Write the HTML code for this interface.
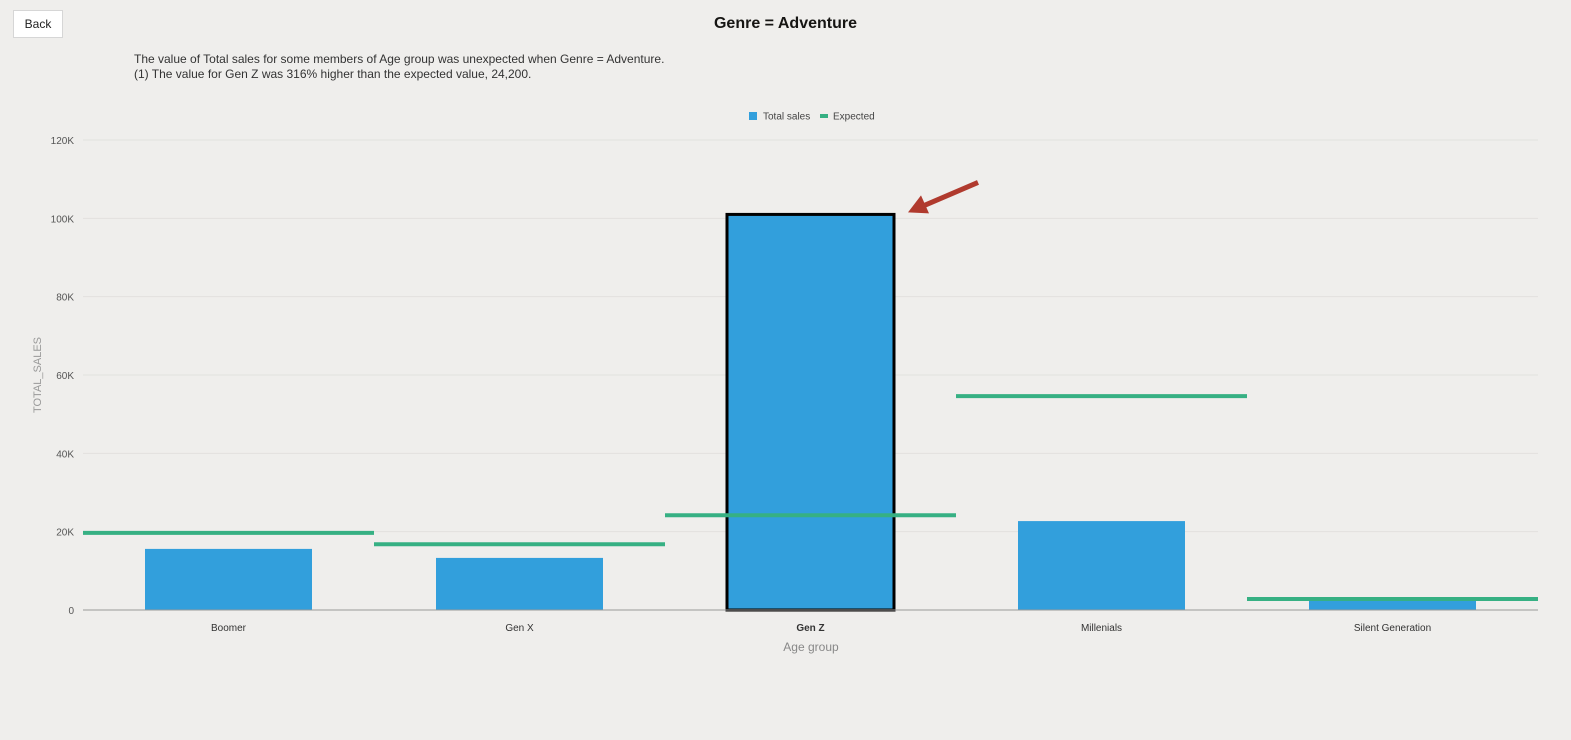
<!DOCTYPE html>
<html><head><meta charset="utf-8"><style>
body{margin:0;width:1571px;height:740px;background:#efeeec;font-family:"Liberation Sans",sans-serif;overflow:hidden;position:relative}
#back{position:absolute;left:13px;top:10px;width:48px;height:26px;background:#fff;border:1px solid #d6d6d6;font-size:12px;line-height:26px;text-align:center;color:#222}
#title{position:absolute;left:0;width:1571px;top:15px;text-align:center;font-size:16px;font-weight:bold;color:#161513}
#desc{position:absolute;left:134px;top:52px;font-size:12px;line-height:15px;color:#333}
</style></head><body>
<div id="back">Back</div>
<div id="title">Genre = Adventure</div>
<div id="desc">The value of Total sales for some members of Age group was unexpected when Genre = Adventure.<br>(1) The value for Gen Z was 316% higher than the expected value, 24,200.</div>
<svg id="chart" width="1571" height="740" style="position:absolute;left:0;top:0"></svg>
<script>
const categories=["Boomer","Gen X","Gen Z","Millenials","Silent Generation"];
const totalSales=[15600,13300,101000,22700,2600];
const expected=[19700,16800,24200,54600,2800];
const yTicks=[0,20000,40000,60000,80000,100000,120000];
const yTickLabels=["0","20K","40K","60K","80K","100K","120K"];
const highlight="Gen Z";
const NS="http://www.w3.org/2000/svg";
const svg=document.getElementById('chart');
const x0=83,x1=1538,y0=610,yTop=140,yMax=120000;
const band=(x1-x0)/categories.length;
const y=v=>y0-(v/yMax)*(y0-yTop);
const xc=i=>x0+band*(i+0.5);
function mk(t,a,txt){const e=document.createElementNS(NS,t);for(const k in a)e.setAttribute(k,a[k]);if(txt!==undefined)e.textContent=txt;svg.appendChild(e);return e;}
yTicks.forEach((v,i)=>{
 if(v>0){const g=mk('line',{x1:x0,x2:x1,y1:y(v),y2:y(v),stroke:'#e2e1de','stroke-width':1});
 
 }
 const t=mk('text',{x:74,y:y(v)+4,'text-anchor':'end','font-size':10,fill:'#555'},yTickLabels[i]);
 
 
});
const yt=mk('text',{x:41,y:375,'text-anchor':'middle','font-size':11,fill:'#999',transform:'rotate(-90 41 375)'},'TOTAL_SALES');


categories.forEach((c,i)=>{
 const hi=c===highlight;
 const b=mk('rect',{x:xc(i)-83.5,y:y(totalSales[i]),width:167,height:y0-y(totalSales[i]),fill:'#329fdc',stroke:hi?'#000':'none','stroke-width':hi?3:0});
 
 
 const t=mk('text',{x:xc(i),y:631,'text-anchor':'middle','font-size':10,fill:'#333','font-weight':hi?'bold':'normal'},c);
 
 
});
const ax=mk('line',{x1:x0,x2:x1,y1:y0,y2:y0,stroke:'#999','stroke-width':1});


categories.forEach((c,i)=>{
 const l=mk('line',{x1:x0+band*i,x2:x0+band*(i+1),y1:y(expected[i]),y2:y(expected[i]),stroke:'#36b083','stroke-width':4});
 
 
});
const xt=mk('text',{x:811,y:651,'text-anchor':'middle','font-size':12,fill:'#888'},'Age group');


const hiIdx=categories.indexOf(highlight);
const ar=mk('g',{});


const ax2=xc(hiIdx)+83.5+14, ay2=y(totalSales[hiIdx])-2;
ar.innerHTML='<line x1="'+(ax2+70)+'" y1="'+(ay2-30)+'" x2="'+(ax2+14)+'" y2="'+(ay2-6)+'" stroke="#b03a2e" stroke-width="5"/><polygon points="'+ax2+','+ay2+' '+(ax2+13)+','+(ay2-17)+' '+(ax2+21)+','+(ay2+1)+'" fill="#b03a2e"/>';
const lg=mk('g',{});


lg.innerHTML='<rect x="749" y="112" width="8" height="8" fill="#329fdc"/><text x="763" y="119.5" font-size="10" fill="#444">Total sales</text><rect x="820" y="114" width="8" height="4" fill="#36b083"/><text x="833" y="119.5" font-size="10" fill="#444">Expected</text>';
</script>
</body></html>
